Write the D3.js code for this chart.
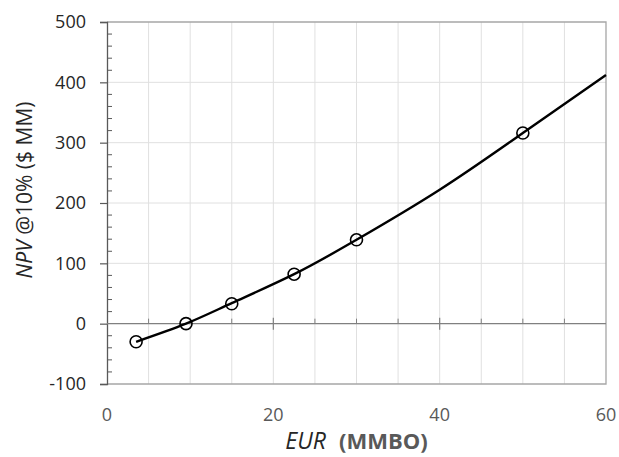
<!DOCTYPE html>
<html>
<head>
<meta charset="utf-8">
<script src="https://cdn.jsdelivr.net/npm/d3@7"></script>
<style>
  body { margin: 0; background: #fff; }
  svg { display: block; font-family: "Open Sans", sans-serif; }
</style>
</head>
<body>
<svg id="chart" width="619" height="457"></svg>
<script>
'use strict'

// measured points (EUR, NPV)
var eur = [3.5, 9.5, 15, 22.5, 30, 50]
var npv = [-30, 0, 33, 82, 139, 316]

// trend line
var trendX = [3.5, 9.5, 15, 22.5, 30, 40, 50, 60]
var trendY = [-30, 0, 34, 82, 139, 222, 316, 412]

var xTicks = [0, 20, 40, 60]
var yTicks = [-100, 0, 100, 200, 300, 400, 500]

var svg = d3.select("#chart"),
    margin = {top: 22, right: 13, bottom: 73, left: 107},
    width = svg.attr("width") - margin.left - margin.right,
    height = svg.attr("height") - margin.top - margin.bottom

var x = d3.scaleLinear().domain([0, 60]).range([0, width])
var y = d3.scaleLinear().domain([-100, 500]).range([height, 0])

var g = svg.append("g")
    .attr("transform", "translate(" + margin.left + "," + margin.top + ")")

// grid
g.append("g").selectAll("line")
  .data(d3.range(5, 60, 5))
  .enter().append("line")
    .attr("x1", d => x(d)).attr("x2", d => x(d))
    .attr("y1", 0).attr("y2", height)
    .attr("stroke", "#e0e0e0").attr("stroke-width", 1)

g.append("g").selectAll("line")
  .data(yTicks.filter(d => d != 0 && d != -100 && d != 500))
  .enter().append("line")
    .attr("x1", 0).attr("x2", width)
    .attr("y1", d => y(d)).attr("y2", d => y(d))
    .attr("stroke", "#e0e0e0").attr("stroke-width", 1)

// frame (top, right, bottom)
g.append("path")
  .attr("d", "M0," + y(500) + "H" + x(60) + "V" + y(-100) + "H0")
  .attr("fill", "none").attr("stroke", "#a6a6a6").attr("stroke-width", 1.3)

// y axis
var yAxis = g.append("g")
  .call(d3.axisLeft(y).tickValues(yTicks).tickFormat(d => String(d)).tickSize(7).tickPadding(14))
yAxis.select(".domain").attr("stroke", "#595959").attr("stroke-width", 1.3)
yAxis.selectAll(".tick line").attr("stroke", "#595959").attr("stroke-width", 1.2)
yAxis.selectAll("text").attr("font-size", 18).attr("fill", "#262626").attr("font-family", "Open Sans")

// minor y ticks, inside
g.append("g").selectAll("line")
  .data(d3.range(-80, 500, 20).filter(d => d % 100 != 0))
  .enter().append("line")
    .attr("x1", 0).attr("x2", 5)
    .attr("y1", d => y(d)).attr("y2", d => y(d))
    .attr("stroke", "#595959").attr("stroke-width", 1)

// x axis line at zero
g.append("line")
  .attr("x1", 0).attr("x2", width)
  .attr("y1", y(0)).attr("y2", y(0))
  .attr("stroke", "#808080").attr("stroke-width", 1.3)

// minor x ticks (up from axis)
g.append("g").selectAll("line")
  .data(d3.range(5, 60, 5).filter(d => d % 20 != 0))
  .enter().append("line")
    .attr("x1", d => x(d)).attr("x2", d => x(d))
    .attr("y1", y(0) - 5).attr("y2", y(0))
    .attr("stroke", "#808080").attr("stroke-width", 1)

// major x ticks cross the axis
g.append("g").selectAll("line")
  .data([20, 40])
  .enter().append("line")
    .attr("x1", d => x(d)).attr("x2", d => x(d))
    .attr("y1", y(0) - 6).attr("y2", y(0) + 6)
    .attr("stroke", "#808080").attr("stroke-width", 1.2)

// x tick labels sit below the plot
g.append("g").selectAll("text")
  .data(xTicks)
  .enter().append("text")
    .attr("x", d => x(d))
    .attr("y", 421 - margin.top)
    .attr("text-anchor", "middle")
    .attr("font-size", 18)
    .attr("fill", "#595959")
    .text(d => d)

// trend line
var line = d3.line()
  .x(d => x(d[0]))
  .y(d => y(d[1]))
  .curve(d3.curveNatural)

g.append("path")
  .datum(d3.zip(trendX, trendY))
  .attr("d", line)
  .attr("fill", "none")
  .attr("stroke", "#000")
  .attr("stroke-width", 2.4)

// markers
g.append("g").selectAll("circle")
  .data(d3.zip(eur, npv))
  .enter().append("circle")
    .attr("cx", d => x(d[0]))
    .attr("cy", d => y(d[1]))
    .attr("r", 6)
    .attr("fill", "none")
    .attr("stroke", "#000")
    .attr("stroke-width", 1.6)

// axis titles
var xt = svg.append("text")
  .attr("x", margin.left + width / 2)
  .attr("y", 449)
  .attr("text-anchor", "middle")
  .attr("fill", "#262626")
xt.append("tspan").attr("font-style", "italic").attr("font-size", 23).text("EUR")
xt.append("tspan").attr("font-weight", "bold").attr("font-size", 22).attr("fill", "#595959")
  .attr("dx", 13).text("(MMBO)")

var yt = svg.append("text")
  .attr("transform", "translate(32,190) rotate(-90)")
  .attr("text-anchor", "middle")
  .attr("font-size", 21)
  .attr("fill", "#262626")
yt.append("tspan").attr("font-style", "italic").text("NPV")
yt.append("tspan").text(" @10% ($ MM)")
</script>
</body>
</html>
